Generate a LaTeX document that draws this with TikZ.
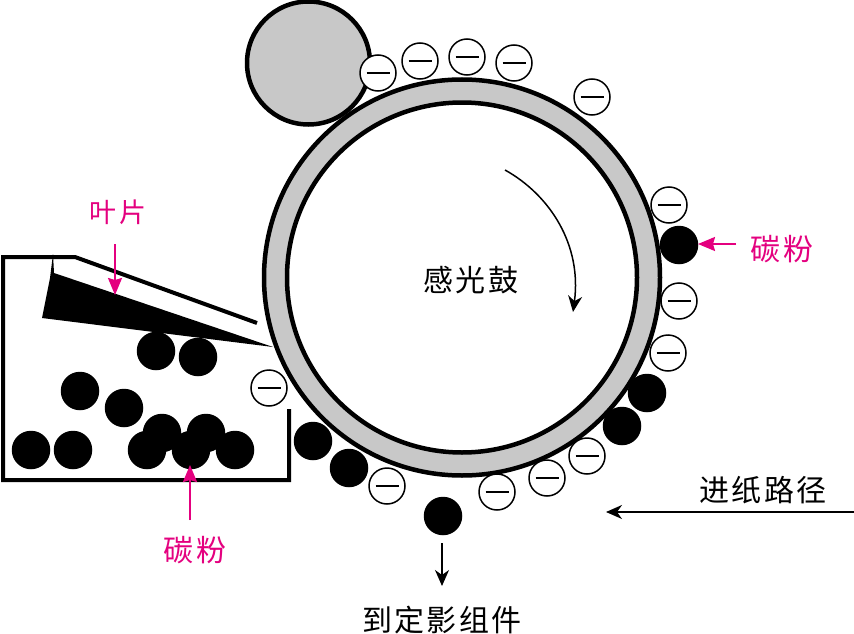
\documentclass[tikz,border=0pt]{standalone}
\usepackage{fontspec}
\setmainfont[LetterSpace=8]{Noto Sans CJK SC}
\usetikzlibrary{arrows.meta}
\definecolor{drumgray}{RGB}{200,200,200}
\definecolor{tonerpink}{RGB}{228,0,127}
\tikzset{
  neg/.style={circle,draw=black,line width=1.5pt,fill=white,minimum size=36pt,inner sep=0pt,
    path picture={\draw[line width=2.4pt,black] ([xshift=-11.5pt]path picture bounding box.center) -- ([xshift=11.5pt]path picture bounding box.center);}},
  toner/.style={circle,fill=black,minimum size=38.5pt,inner sep=0pt},
  lbl/.style={inner sep=0pt,font=\fontsize{30}{30}\selectfont},
  pinklbl/.style={lbl,text=tonerpink},
  blackarrow/.style={line width=1.5pt,-{Stealth[length=16pt,width=14pt,inset=5pt]}},
  pinkarrow/.style={line width=2pt,tonerpink,-{Stealth[length=17pt,width=14pt,inset=2pt]}},
  ring/.style={circle,draw=black,line width=4.5pt,inner sep=0pt}
}
\begin{document}
\begin{tikzpicture}[x=1pt,y=-1pt]
\useasboundingbox[fill=white] (0,0) rectangle (854,634);
% drum
\node[ring,fill=drumgray,minimum size=396pt] (drum) at (462,277.5) {};
\node[ring,fill=white,minimum size=350pt] (drumin) at (462,277.5) {};
% charge roller
\node[ring,fill=drumgray,minimum size=123pt] (roller) at (308.5,63) {};
% hopper
\draw[line width=4pt,line join=miter] (289,409) -- (289,480) -- (3,480) -- (3,257) -- (75,257) -- (257,323);
% blade
\fill[black] (53,254) -- (54,273) -- (273,347) -- (42,318) -- (50,278) -- cycle;
% negative charges
\foreach \n/\x/\y in {a/378/73,b/420/61,c/467/57,d/514/63,e/592/97,f/669/205,g/679/301,h/668/353,i/587/456,j/547/478,k/497/492,l/387/486,m/269/388}
  \node[neg] (n\n) at (\x,\y) {};
% toner on drum
\foreach \n/\x/\y in {a/679/245,b/647/393,c/622/426,d/313/441,e/349/468,f/443/516}
  \node[toner] (t\n) at (\x,\y) {};
% toner in hopper
\foreach \n/\x/\y in {a/156/351,b/198/357,c/80/391,d/124/408,e/31/450,f/73/450,g/162/433,h/206/433,i/147/450,j/191/450,k/235/450}
  \node[toner] (h\n) at (\x,\y) {};
% labels
\node[pinklbl,font=\fontsize{27}{27}\selectfont] (blade) at (118,212) {叶片};
\node[pinklbl] (tonerA) at (782,249) {碳粉};
\node[pinklbl] (tonerB) at (195,550) {碳粉};
\node[lbl] (drumlbl) at (471,280) {感光鼓};
\node[lbl] (paper) at (763,490) {进纸路径};
\node[lbl] (fix) at (442,620) {到定影组件};
% connectors
\coordinate (bladestart) at (115,244);
\coordinate (bladetip) at (115,295);
\coordinate (hopperstart) at (190,520);
\coordinate (hoppertip) at (190,465);
\coordinate (rightstart) at (736,244);
\coordinate (righttip) at (698,244);
\coordinate (papertip) at (606,512);
\coordinate (paperstart) at (854,512);
\coordinate (fixstart) at (442,543);
\coordinate (fixtip) at (442,586);
\coordinate (arcA) at (505,170);
\coordinate (arcB) at (573,312);
\draw[pinkarrow] (bladestart) -- (bladetip);
\draw[pinkarrow] (hopperstart) -- (hoppertip);
\draw[pinkarrow] (rightstart) -- (righttip);
\draw[blackarrow] (paperstart) -- (papertip);
\draw[blackarrow] (fixstart) -- (fixtip);
\draw[blackarrow] (arcA) .. controls (550,195) and (582,245) .. (arcB);
\end{tikzpicture}
\end{document}
